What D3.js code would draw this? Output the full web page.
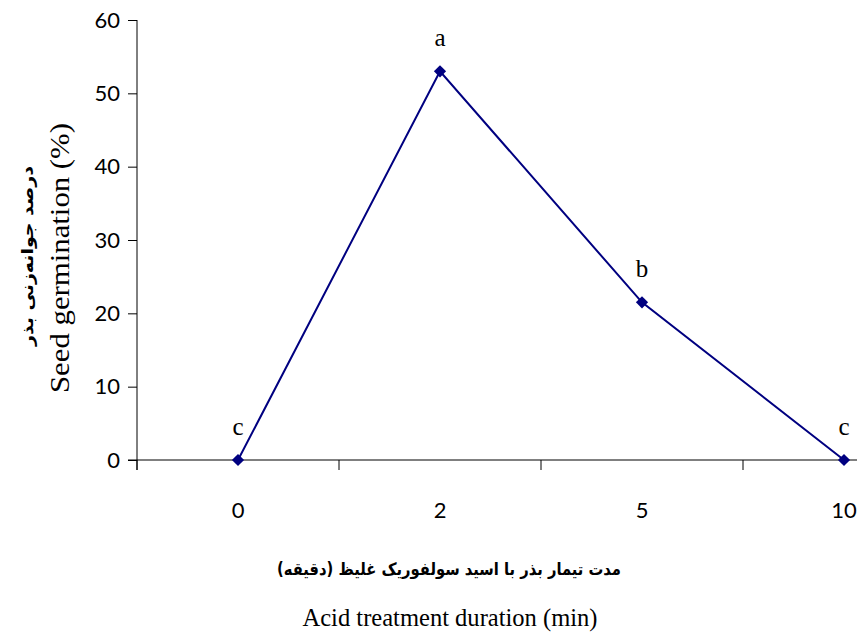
<!DOCTYPE html>
<html><head><meta charset="utf-8">
<script src="https://cdn.jsdelivr.net/npm/d3@7"></script>
<style>body{margin:0;background:#fff}</style>
</head><body>
<svg id="c" width="857" height="635"></svg>
<script>
const categories = ["0", "2", "5", "10"];
const germination = [0, 53, 21.5, 0];
const letters = ["c", "a", "b", "c"];
const yTicks = [0, 10, 20, 30, 40, 50, 60];

const svg = d3.select("#c");
const x = d3.scaleBand().domain(categories).range([137, 137 + 4 * 202]);
const y = d3.scaleLinear().domain([0, 60]).range([460, 20]);
const cx = d => x(d) + x.bandwidth() / 2;

// Y axis
const ya = svg.append("g").attr("transform", "translate(137,0)")
  .call(d3.axisLeft(y).tickValues(yTicks).tickSize(9).tickPadding(8));
ya.select(".domain").attr("d", "M0,20V470").attr("stroke", "#000");
ya.selectAll("line").attr("stroke", "#000");
ya.selectAll("text").attr("font-family", "Lato, 'Open Sans', sans-serif").attr("font-size", 22).attr("fill", "#000");

// X axis
const xa = svg.append("g").attr("transform", "translate(0,460)")
  .call(d3.axisBottom(x).tickSize(0).tickPadding(42));
xa.select(".domain").attr("d", "M128,0H857").attr("stroke", "#000");
xa.selectAll("text").attr("font-family", "Lato, 'Open Sans', sans-serif").attr("font-size", 22).attr("fill", "#000");
// ticks between categories
svg.append("g").selectAll("line").data(categories).join("line")
  .attr("x1", d => x(d)).attr("x2", d => x(d)).attr("y1", 460).attr("y2", 470)
  .attr("stroke", "#000");

// line
const line = d3.line().x((d, i) => cx(categories[i])).y(d => y(d));
svg.append("path").datum(germination).attr("d", line)
  .attr("fill", "none").attr("stroke", "#000080").attr("stroke-width", 2);
svg.append("g").selectAll("path").data(germination).join("path")
  .attr("d", d3.symbol(d3.symbolDiamond2, 95))
  .attr("transform", (d, i) => `translate(${cx(categories[i])},${y(d)})`)
  .attr("fill", "#000080");
svg.append("g").selectAll("text").data(germination).join("text")
  .attr("x", (d, i) => cx(categories[i])).attr("y", d => y(d) - 25)
  .attr("text-anchor", "middle")
  .attr("font-family", "'Liberation Serif', 'Times New Roman', serif").attr("font-size", 25)
  .text((d, i) => letters[i]);

// axis titles
svg.append("text").attr("x", 449).attr("y", 575).attr("text-anchor", "middle")
  .attr("font-family", "'DejaVu Sans', sans-serif").attr("font-weight", "bold").attr("font-size", 17)
  .attr("direction", "rtl").attr("textLength", 344).attr("lengthAdjust", "spacingAndGlyphs")
  .text("مدت تیمار بذر با اسید سولفوریک غلیظ (دقیقه)");
svg.append("text").attr("x", 450).attr("y", 626).attr("text-anchor", "middle")
  .attr("font-family", "'Liberation Serif', 'Times New Roman', serif").attr("font-size", 25)
  .attr("textLength", 295).attr("lengthAdjust", "spacingAndGlyphs")
  .text("Acid treatment duration (min)");
svg.append("text").attr("transform", "translate(69,258) rotate(-90)").attr("text-anchor", "middle")
  .attr("font-family", "'Liberation Serif', 'Times New Roman', serif").attr("font-size", 28)
  .attr("textLength", 270).attr("lengthAdjust", "spacingAndGlyphs")
  .text("Seed germination (%)");
svg.append("text").attr("transform", "translate(33,256) rotate(-90)").attr("text-anchor", "middle")
  .attr("font-family", "'DejaVu Sans', sans-serif").attr("font-weight", "bold").attr("font-size", 16)
  .attr("direction", "rtl").attr("textLength", 180).attr("lengthAdjust", "spacingAndGlyphs")
  .text("درصد جوانه‌زنی بذر");
</script>
</body></html>
